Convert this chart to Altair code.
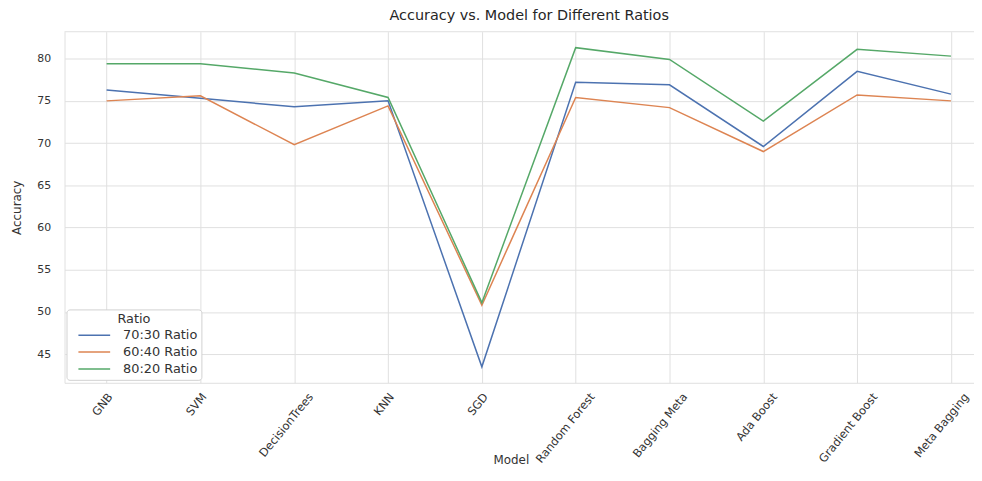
import altair as alt
import pandas as pd

models = ["GNB", "SVM", "DecisionTrees", "KNN", "SGD", "Random Forest",
          "Bagging Meta", "Ada Boost", "Gradient Boost", "Meta Bagging"]
ratios = ["70:30 Ratio", "60:40 Ratio", "80:20 Ratio"]
acc_70_30 = [76.3, 75.3, 74.3, 75.0, 43.5, 77.2, 76.9, 69.6, 78.5, 75.8]
acc_60_40 = [75.0, 75.6, 69.8, 74.4, 50.8, 75.4, 74.2, 69.0, 75.7, 75.0]
acc_80_20 = [79.4, 79.4, 78.3, 75.4, 51.1, 81.3, 79.9, 72.6, 81.1, 80.3]
colors = ["#4C72B0", "#DD8452", "#55A868"]
y_ticks = [45, 50, 55, 60, 65, 70, 75, 80]

rows = []
for r, vals in zip(ratios, [acc_70_30, acc_60_40, acc_80_20]):
    for m, v in zip(models, vals):
        rows.append({"Model": m, "Accuracy": v, "Ratio": r})
df = pd.DataFrame(rows)

all_vals = acc_70_30 + acc_60_40 + acc_80_20
lo, hi = min(all_vals), max(all_vals)
marg = (hi - lo) * 0.05
ydom = [lo - marg, hi + marg]

W, H = 917, 354
FONT = "DejaVu Sans"
TXT = "#333333"
GRID = "#e0e0e0"

lines = alt.Chart(df).mark_line(strokeWidth=1.5).encode(
    x=alt.X("Model:N", sort=models,
            scale=alt.Scale(type="point", padding=0.347, align=0.646),
            axis=alt.Axis(title="Model", labelAngle=-51, labelAlign="right",
                          labelBaseline="middle",
                          labelOffset={"expr": "length(datum.label) * 1.3"},
                          labelPadding=12, labelFontSize=11.5, labelColor=TXT,
                          labelFont=FONT, ticks=False, grid=True,
                          gridColor=GRID, domainColor=GRID,
                          titleFont=FONT, titleFontSize=12, titleColor=TXT,
                          titleFontWeight="normal", titleBaseline="top",
                          titleY=72, titleX=450)),
    y=alt.Y("Accuracy:Q",
            scale=alt.Scale(domain=ydom, nice=False, zero=False),
            axis=alt.Axis(title="Accuracy", values=y_ticks, ticks=False,
                          labelPadding=14, labelFontSize=11, labelColor=TXT,
                          labelFont=FONT, grid=True, gridColor=GRID,
                          domainColor=GRID, titleFont=FONT, titleFontSize=12,
                          titleColor=TXT, titleFontWeight="normal",
                          titlePadding=13)),
    color=alt.Color("Ratio:N",
                    scale=alt.Scale(domain=ratios, range=colors),
                    legend=alt.Legend(title="Ratio", orient="none",
                                      legendX=2, legendY=280,
                                      titleAnchor="middle",
                                      fillColor="white", strokeColor="#d0d0d0",
                                      cornerRadius=3, padding=4,
                                      symbolType="M-2,0H2", symbolStrokeWidth=1.5,
                                      symbolSize=256, symbolOffset=15,
                                      labelOffset=20, labelFontSize=13,
                                      titleFontSize=13, titleFontWeight="normal",
                                      titlePadding=0,
                                      labelFont=FONT, titleFont=FONT,
                                      labelColor=TXT, titleColor=TXT,
                                      rowPadding=1)),
)

top_border = alt.Chart(pd.DataFrame({"a": [0]})).mark_rule(
    color=GRID, strokeWidth=1
).encode(y=alt.value(0), x=alt.value(0), x2=alt.value(W))

chart = alt.layer(lines, top_border).properties(
    width=W, height=H,
    title=alt.TitleParams("Accuracy vs. Model for Different Ratios",
                          font=FONT, fontSize=14.5, fontWeight="normal",
                          color="#262626", anchor="middle", offset=8, dx=10),
    autosize=alt.AutoSizeParams(type="none"),
    padding={"left": 57, "top": 22, "right": 0, "bottom": 86},
).configure_view(stroke=None)

chart.save("out.html", embed_options={"renderer": "svg", "actions": False})
